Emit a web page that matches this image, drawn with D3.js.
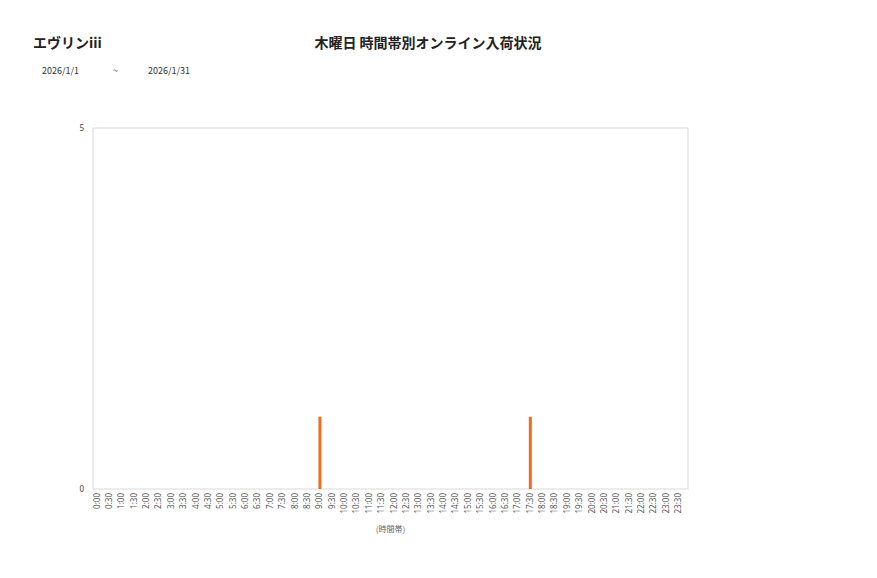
<!DOCTYPE html>
<html>
<head>
<meta charset="utf-8">
<script src="https://cdn.jsdelivr.net/npm/d3@7"></script>
<style>
  body { margin: 0; background: #fff; }
  text { font-family: "Noto Sans CJK JP", "Noto Sans", sans-serif; }
</style>
</head>
<body>
<svg id="chart" width="877" height="578"></svg>
<script>
// time slots (half hours)
const slots = ["0:00","0:30","1:00","1:30","2:00","2:30","3:00","3:30","4:00","4:30","5:00","5:30",
  "6:00","6:30","7:00","7:30","8:00","8:30","9:00","9:30","10:00","10:30","11:00","11:30",
  "12:00","12:30","13:00","13:30","14:00","14:30","15:00","15:30","16:00","16:30","17:00","17:30",
  "18:00","18:30","19:00","19:30","20:00","20:30","21:00","21:30","22:00","22:30","23:00","23:30"];
const counts = [0,0,0,0,0,0,0,0,0,0,0,0,
  0,0,0,0,0,0,1,0,0,0,0,0,
  0,0,0,0,0,0,0,0,0,0,0,1,
  0,0,0,0,0,0,0,0,0,0,0,0];
const yTicks = [0, 5];

const storeName = "エヴリンiii";
const chartTitle = "木曜日 時間帯別オンライン入荷状況";
const dateFrom = "2026/1/1";
const dateTo = "2026/1/31";

const svg = d3.select("#chart");
const plotL = 93, plotR = 688, plotT = 128, plotB = 489;

const x = d3.scaleBand().domain(slots).range([plotL - 2, plotR - 3]).padding(0);
const y = d3.scaleLinear().domain([0, 5]).range([plotB, plotT]);

// headings
svg.append("text").text(storeName)
  .attr("x", 33).attr("y", 48)
  .attr("font-size", 14).attr("font-weight", "bold").attr("fill", "#222");
svg.append("text").text(chartTitle)
  .attr("x", 428).attr("y", 48).attr("text-anchor", "middle")
  .attr("font-size", 14).attr("font-weight", "bold").attr("fill", "#222");
svg.append("text").text(dateFrom).attr("x", 42).attr("y", 74).attr("font-size", 9).attr("fill", "#333");
svg.append("text").text("~").attr("x", 113).attr("y", 74).attr("font-size", 9).attr("fill", "#333");
svg.append("text").text(dateTo).attr("x", 148).attr("y", 74).attr("font-size", 9).attr("fill", "#333");

// plot frame
svg.append("rect")
  .attr("x", plotL).attr("y", plotT)
  .attr("width", plotR - plotL).attr("height", plotB - plotT)
  .attr("fill", "none").attr("stroke", "#d9d9d9").attr("stroke-width", 1);

// bars
svg.selectAll("rect.bar")
  .data(slots.map((s, i) => ({ s, v: counts[i] })))
  .enter().append("rect")
  .attr("class", "bar")
  .attr("x", d => x(d.s) + x.bandwidth() / 2 - 1.5)
  .attr("y", d => y(d.v))
  .attr("width", 3)
  .attr("height", d => y(0) - y(d.v))
  .attr("fill", "#f06c1c");

// y axis
const yAxis = svg.append("g")
  .attr("transform", `translate(${plotL},0)`)
  .call(d3.axisLeft(y).tickValues(yTicks).tickFormat(d3.format("d")).tickSize(0).tickPadding(9));
yAxis.select(".domain").remove();
yAxis.selectAll("text").attr("font-size", 8).attr("fill", "#444")
  .style("font-family", "'Noto Sans', sans-serif");

// x axis
const xAxis = svg.append("g")
  .attr("transform", `translate(0,${plotB})`)
  .call(d3.axisBottom(x).tickSize(0).tickPadding(0));
xAxis.select(".domain").remove();
xAxis.selectAll("text")
  .attr("font-size", 8).attr("fill", "#555")
  .style("font-family", "'Noto Sans', sans-serif")
  .attr("text-anchor", "end")
  .attr("transform", "rotate(-90)")
  .attr("x", -4).attr("y", 0).attr("dy", "0.3em");

svg.append("text").text("(時間帯)")
  .attr("x", (plotL + plotR) / 2).attr("y", 532).attr("text-anchor", "middle")
  .attr("font-size", 8).attr("fill", "#666");
</script>
</body>
</html>
